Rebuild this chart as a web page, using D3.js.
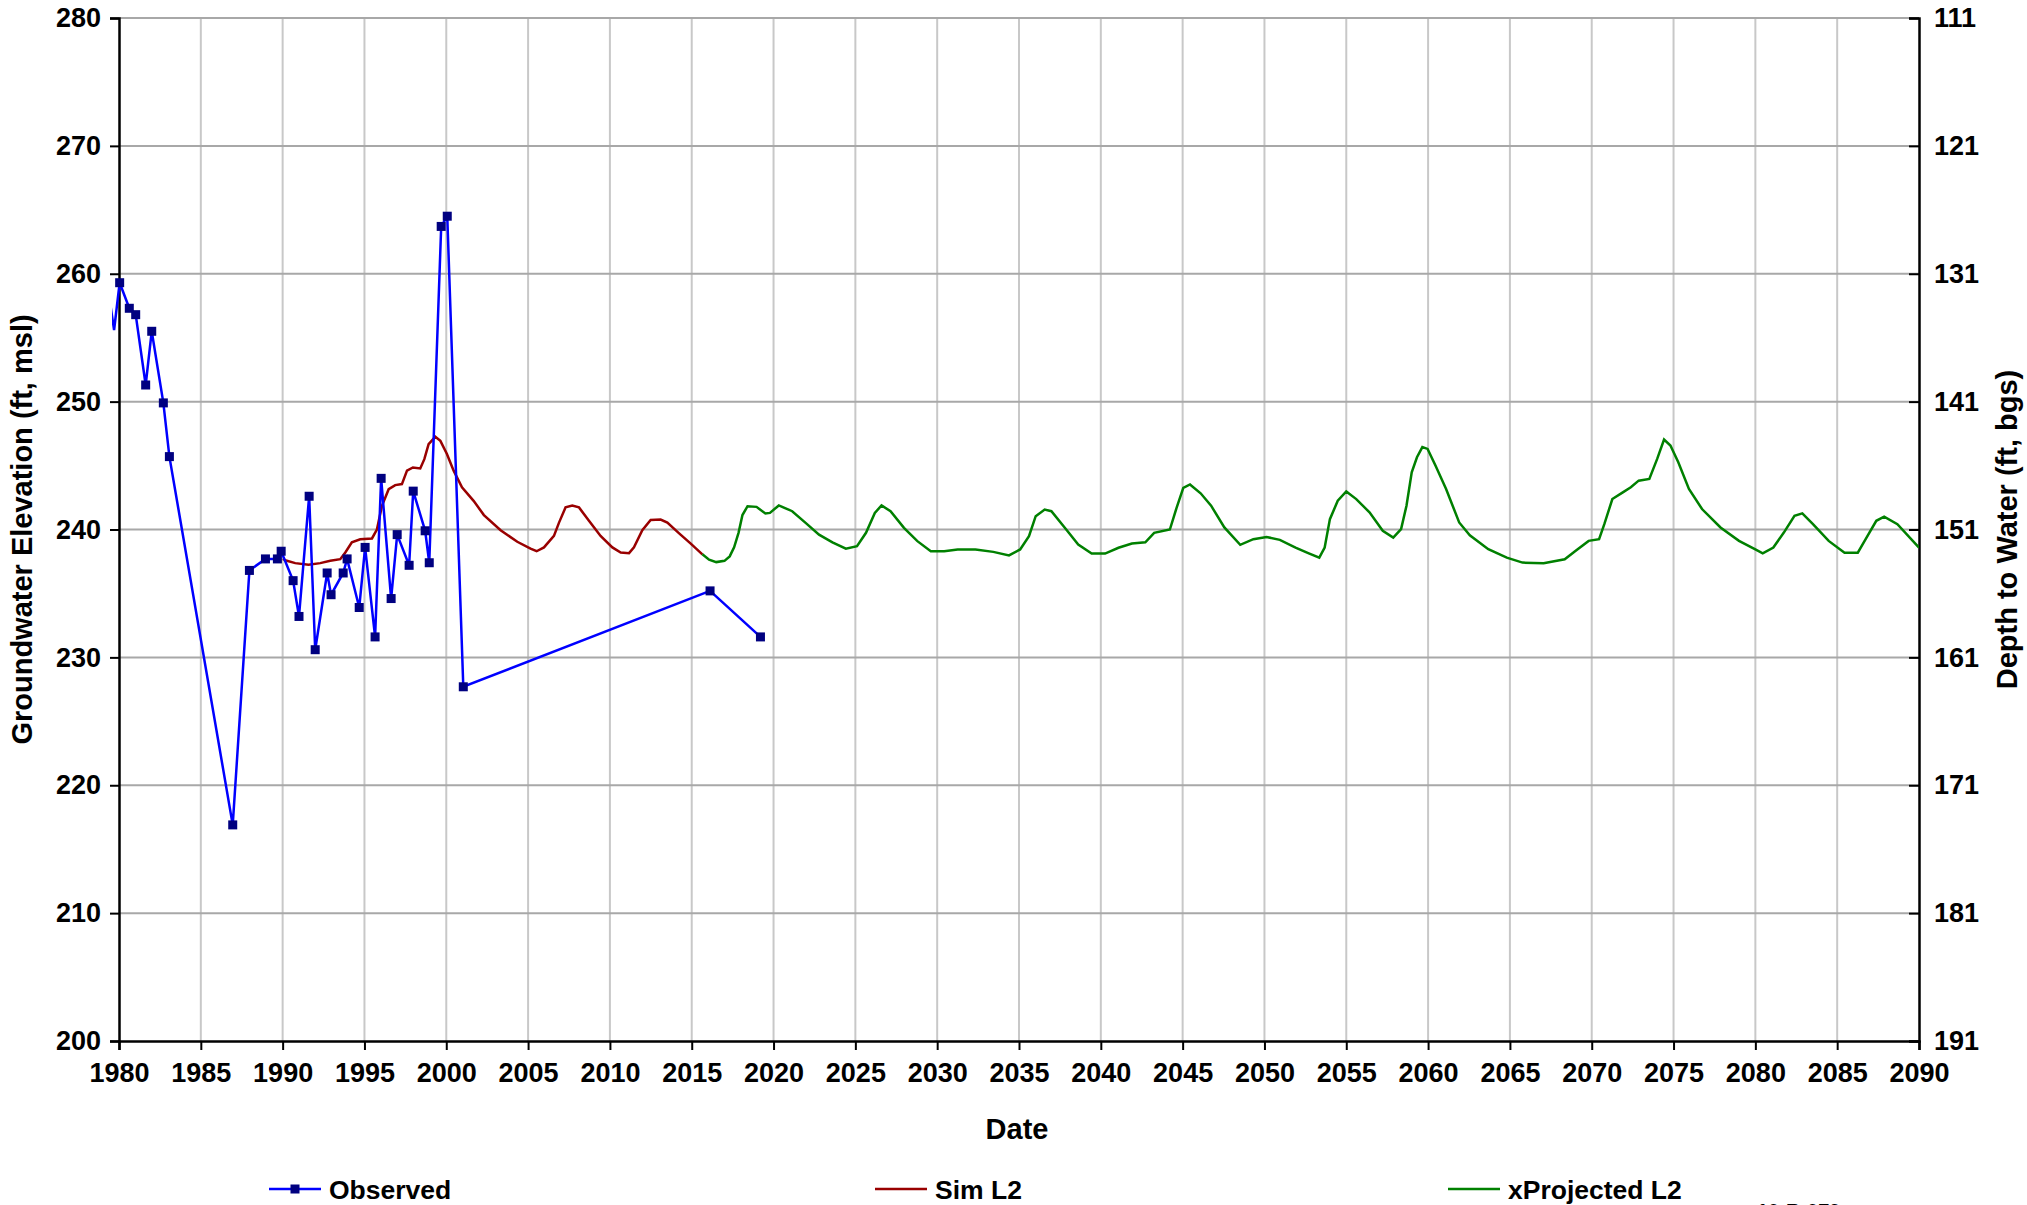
<!DOCTYPE html>
<html>
<head>
<meta charset="utf-8">
<script src="https://cdn.jsdelivr.net/npm/d3@7"></script>
<style>
  html, body { margin: 0; padding: 0; background: #fff; }
  svg { display: block; font-family: "Liberation Sans", Arial, sans-serif; font-weight: bold; }
</style>
</head>
<body>
<svg id="chart" width="2027" height="1205"></svg>
<script>
// ---- Data ----
const xTicks = [1980,1985,1990,1995,2000,2005,2010,2015,2020,2025,2030,2035,2040,2045,2050,2055,2060,2065,2070,2075,2080,2085,2090];
const yTicks = [200,210,220,230,240,250,260,270,280];
const depthLabels = ["191","181","171","161","151","141","131","121","111"];

const obsYears = [1979.4,1979.7,1980.04,1980.63,1981.02,1981.63,1982.0,1982.71,1983.08,1986.95,1987.97,1988.95,1989.68,1989.91,1990.64,1991.0,1991.62,1991.99,1992.72,1992.96,1993.70,1993.94,1994.68,1995.04,1995.65,1996.02,1996.63,1997.0,1997.73,1997.98,1998.71,1998.96,1999.69,2000.06,2001.04,2016.12,2019.2];
const obsValues = [258.2,255.6,259.3,257.3,256.8,251.3,255.5,249.9,245.7,216.9,236.8,237.7,237.7,238.3,236.0,233.2,242.6,230.6,236.6,234.9,236.6,237.7,233.9,238.6,231.6,244.0,234.6,239.6,237.2,243.0,239.9,237.4,263.7,264.5,227.7,235.2,231.6];

const simYears = [1990.01,1990.26,1990.77,1991.58,1992.30,1992.91,1993.52,1993.83,1994.23,1994.74,1995.46,1995.76,1996.07,1996.48,1996.88,1997.29,1997.60,1997.96,1998.41,1998.66,1998.92,1999.33,1999.64,2000.04,2000.45,2000.96,2001.67,2002.30,2003.32,2004.34,2005.15,2005.52,2005.97,2006.58,2006.89,2007.29,2007.70,2008.11,2008.72,2009.43,2010.15,2010.66,2011.17,2011.47,2011.98,2012.49,2013.10,2013.51,2014.23,2014.94,2015.65];
const simValues = [237.7,237.55,237.37,237.24,237.37,237.55,237.68,238.2,239.0,239.24,239.3,240.0,241.85,243.15,243.47,243.55,244.6,244.85,244.77,245.5,246.67,247.25,246.93,245.9,244.6,243.3,242.24,241.13,239.94,239.04,238.5,238.3,238.6,239.5,240.54,241.73,241.88,241.73,240.69,239.5,238.6,238.2,238.15,238.6,239.94,240.75,240.78,240.54,239.7,238.9,238.06];

const projYears = [2015.65,2016.06,2016.5,2017.0,2017.32,2017.59,2017.86,2018.1,2018.41,2018.96,2019.5,2019.78,2020.32,2021.14,2021.96,2022.78,2023.6,2024.42,2025.1,2025.65,2026.19,2026.6,2027.15,2027.97,2028.79,2029.61,2030.43,2031.25,2032.34,2033.43,2034.39,2035.07,2035.61,2036.02,2036.57,2036.98,2037.8,2038.62,2039.44,2040.26,2041.08,2041.9,2042.72,2043.26,2044.22,2044.63,2045.04,2045.45,2046.1,2046.74,2047.55,2048.52,2049.32,2050.13,2050.94,2051.9,2052.71,2053.35,2053.68,2054.0,2054.48,2055.0,2055.61,2056.42,2057.23,2057.87,2058.35,2058.68,2059.0,2059.32,2059.65,2059.97,2060.45,2061.1,2061.9,2062.55,2063.68,2064.81,2065.77,2067.06,2068.35,2069.0,2069.81,2070.45,2070.77,2071.26,2071.9,2072.39,2072.87,2073.52,2074.0,2074.42,2074.81,2075.29,2075.94,2076.74,2077.87,2079.0,2079.97,2080.45,2081.1,2081.74,2082.39,2082.87,2083.52,2084.48,2085.45,2086.26,2086.74,2087.39,2087.87,2088.68,2090.0];
const projValues = [238.06,237.64,237.45,237.55,237.9,238.6,239.74,241.13,241.82,241.77,241.25,241.3,241.88,241.43,240.52,239.6,239.0,238.5,238.7,239.74,241.3,241.88,241.43,240.13,239.09,238.3,238.3,238.44,238.44,238.25,237.97,238.44,239.48,241.04,241.56,241.43,240.13,238.83,238.12,238.12,238.57,238.9,239.0,239.74,240.0,241.7,243.26,243.52,242.83,241.86,240.16,238.8,239.24,239.42,239.19,238.59,238.14,237.8,238.59,240.81,242.25,242.98,242.38,241.34,239.9,239.37,240.03,241.86,244.48,245.65,246.44,246.3,245.0,243.17,240.55,239.55,238.46,237.8,237.41,237.36,237.67,238.32,239.11,239.24,240.42,242.38,242.9,243.3,243.82,243.95,245.52,247.04,246.57,245.26,243.17,241.6,240.16,239.11,238.46,238.14,238.59,239.76,241.07,241.26,240.42,239.11,238.19,238.19,239.24,240.68,241.0,240.42,238.59];

const legendItems = ["Observed", "Sim L2", "xProjected L2"];
const footnote = "10-R-079";

// ---- Layout ----
const svg = d3.select("#chart");
const L = 119, R = 1919, T = 18, B = 1041;
const x = d3.scaleLinear().domain([1980, 2090]).range([L, R]);
const y = d3.scaleLinear().domain([200, 280]).range([B, T]);

svg.append("defs").append("clipPath").attr("id", "clip")
  .append("rect").attr("x", L - 7).attr("y", T - 5).attr("width", R - L + 7).attr("height", B - T + 10);

// gridlines
const grid = svg.append("g");
grid.selectAll("line.v").data(xTicks.slice(1, -1)).join("line")
  .attr("x1", d => x(d)).attr("x2", d => x(d)).attr("y1", T).attr("y2", B)
  .attr("stroke", "#c8c8c8").attr("stroke-width", 2);
grid.selectAll("line.h").data(yTicks.slice(1)).join("line")
  .attr("x1", L).attr("x2", R).attr("y1", d => y(d)).attr("y2", d => y(d))
  .attr("stroke", "#a8a8a8").attr("stroke-width", 2);

// axes
const tickFont = 27, titleFont = 29, legendFont = 26.5;
const gLeft = svg.append("g").attr("transform", `translate(${L},0)`)
  .call(d3.axisLeft(y).tickValues(yTicks).tickSize(9).tickPadding(9).tickFormat(d3.format("d")));
const gBottom = svg.append("g").attr("transform", `translate(0,${B})`)
  .call(d3.axisBottom(x).tickValues(xTicks).tickSize(9).tickPadding(13).tickFormat(d3.format("d")));
const yRight = d3.scaleLinear().domain([0, yTicks.length - 1]).range([B, T]);
const gRight = svg.append("g").attr("transform", `translate(${R},0)`)
  .call(d3.axisRight(yRight).tickValues(d3.range(yTicks.length)).tickSize(-10).tickPadding(15)
    .tickFormat(i => depthLabels[i]));

[gLeft, gBottom, gRight].forEach(g => {
  g.selectAll(".domain").attr("stroke", "#000").attr("stroke-width", 2.5);
  g.selectAll(".tick line").attr("stroke", "#000").attr("stroke-width", 2);
  g.selectAll(".tick text").attr("font-size", tickFont).attr("font-weight", "bold")
    .attr("fill", "#000").attr("font-family", "Liberation Sans, Arial, sans-serif");
});

// axis titles
svg.append("text").attr("transform", `translate(32,${(T + B) / 2}) rotate(-90)`)
  .attr("text-anchor", "middle").attr("font-size", titleFont).text("Groundwater Elevation (ft, msl)");
svg.append("text").attr("transform", `translate(2017,${(T + B) / 2}) rotate(-90)`)
  .attr("text-anchor", "middle").attr("font-size", titleFont).text("Depth to Water (ft, bgs)");
svg.append("text").attr("x", 1017).attr("y", 1139).attr("text-anchor", "middle")
  .attr("font-size", titleFont).text("Date");

// series
const plot = svg.append("g").attr("clip-path", "url(#clip)");
const line = d3.line().x(d => x(d[0])).y(d => y(d[1]));

const simData = d3.zip(simYears, simValues);
const projData = d3.zip(projYears, projValues);
const obsData = d3.zip(obsYears, obsValues);

plot.append("path").datum(simData).attr("d", line)
  .attr("fill", "none").attr("stroke", "#990000").attr("stroke-width", 2.5);
plot.append("path").datum(projData).attr("d", line)
  .attr("fill", "none").attr("stroke", "#008000").attr("stroke-width", 2.5);
plot.append("path").datum(obsData).attr("d", line)
  .attr("fill", "none").attr("stroke", "#0000ff").attr("stroke-width", 2.5);
const ms = 9;
plot.selectAll("rect.m").data(obsData.filter(d => d[0] >= 1980)).join("rect")
  .attr("x", d => x(d[0]) - ms / 2).attr("y", d => y(d[1]) - ms / 2)
  .attr("width", ms).attr("height", ms).attr("fill", "#000080");

// legend
const legY = 1189;
const legX = [269, 875, 1448];
const legColors = ["#0000ff", "#990000", "#008000"];
legendItems.forEach((name, i) => {
  const g = svg.append("g");
  g.append("line").attr("x1", legX[i]).attr("x2", legX[i] + 52).attr("y1", legY).attr("y2", legY)
    .attr("stroke", legColors[i]).attr("stroke-width", 2.5);
  if (i === 0) {
    g.append("rect").attr("x", legX[i] + 26 - 4.5).attr("y", legY - 4.5).attr("width", 9).attr("height", 9).attr("fill", "#000080");
  }
  g.append("text").attr("x", legX[i] + 60).attr("y", legY + 9.5).attr("font-size", legendFont).text(name);
});

svg.append("text").attr("x", 1757).attr("y", 1218).attr("font-size", 20).text(footnote);
</script>
</body>
</html>
